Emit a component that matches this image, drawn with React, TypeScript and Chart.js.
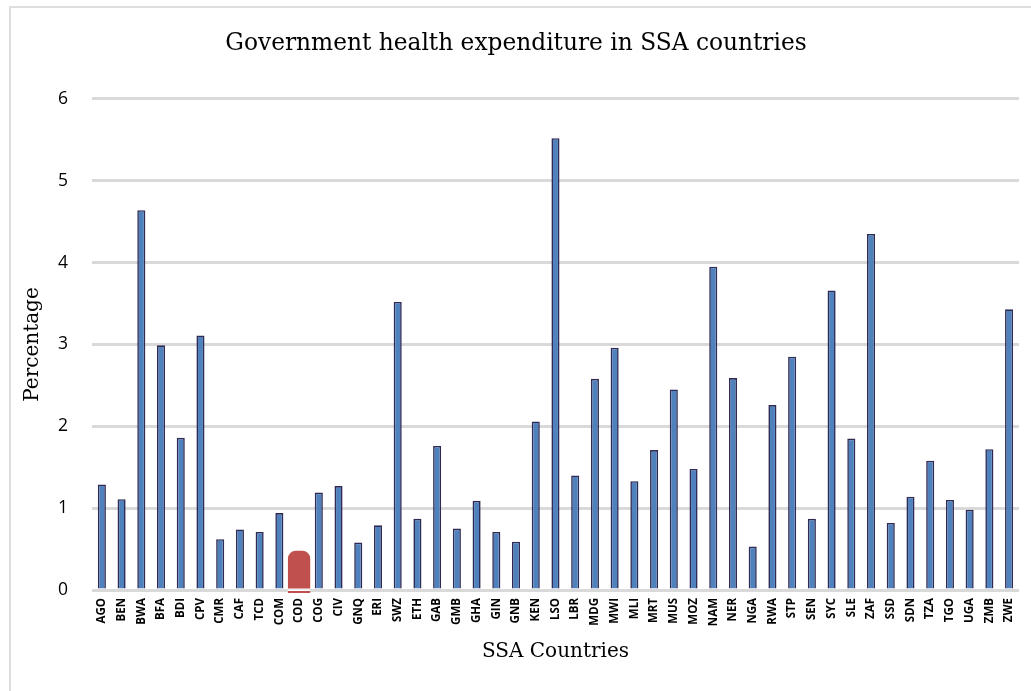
import { useEffect, useRef } from "react";
import { Chart, registerables } from "chart.js";

Chart.register(...registerables);

const chartTitle = "Government health expenditure in SSA countries";
const xAxisTitle = "SSA Countries";
const yAxisTitle = "Percentage";

const categories = [
  "AGO", "BEN", "BWA", "BFA", "BDI", "CPV", "CMR", "CAF", "TCD", "COM",
  "COD", "COG", "CIV", "GNQ", "ERI", "SWZ", "ETH", "GAB", "GMB", "GHA",
  "GIN", "GNB", "KEN", "LSO", "LBR", "MDG", "MWI", "MLI", "MRT", "MUS",
  "MOZ", "NAM", "NER", "NGA", "RWA", "STP", "SEN", "SYC", "SLE", "ZAF",
  "SSD", "SDN", "TZA", "TGO", "UGA", "ZMB", "ZWE",
];

const values = [
  1.29, 1.11, 4.64, 2.99, 1.86, 3.11, 0.62, 0.74, 0.71, 0.94,
  0.48, 1.19, 1.27, 0.58, 0.79, 3.52, 0.87, 1.76, 0.75, 1.09,
  0.71, 0.59, 2.06, 5.52, 1.40, 2.58, 2.96, 1.33, 1.71, 2.45,
  1.48, 3.95, 2.59, 0.53, 2.26, 2.85, 0.87, 3.66, 1.85, 4.35,
  0.82, 1.14, 1.58, 1.10, 0.98, 1.72, 3.43,
];

const highlightCategory = "COD";

const yTicks = [0, 1, 2, 3, 4, 5, 6];

export default function App() {
  const canvasRef = useRef<HTMLCanvasElement | null>(null);

  useEffect(() => {
    if (!canvasRef.current) return;

    const mainData = categories.map((c, i) => (c === highlightCategory ? null : values[i]));
    const highlightData = categories.map((c, i) => (c === highlightCategory ? values[i] : null));

    const underlinePlugin = {
      id: "highlightUnderline",
      afterDatasetsDraw(chart: any) {
        const meta = chart.getDatasetMeta(1);
        const yScale = chart.scales.y;
        const ctx = chart.ctx;
        const y0 = yScale.getPixelForValue(0);
        meta.data.forEach((el: any, i: number) => {
          if (highlightData[i] == null) return;
          const w = el.width;
          ctx.save();
          ctx.fillStyle = "#ffffff";
          ctx.fillRect(el.x - w / 2, y0 - 0.5, w, 1.5);
          ctx.fillStyle = "#c0504d";
          ctx.fillRect(el.x - w / 2, y0 + 1, w, 2);
          ctx.restore();
        });
      },
    };

    const chart = new Chart(canvasRef.current, {
      type: "bar",
      data: {
        labels: categories,
        datasets: [
          {
            data: mainData,
            backgroundColor: "#4f81bd",
            borderColor: "#2f2b55",
            borderWidth: 1.6,
            barPercentage: 0.41,
            categoryPercentage: 1,
            grouped: false,
          },
          {
            data: highlightData,
            backgroundColor: "#c0504d",
            borderWidth: 0,
            borderRadius: { topLeft: 8, topRight: 8, bottomLeft: 0, bottomRight: 0 },
            borderSkipped: false,
            barPercentage: 1.13,
            categoryPercentage: 1,
            grouped: false,
          },
        ],
      },
      options: {
        animation: false,
        responsive: false,
        devicePixelRatio: 1,
        layout: { padding: { left: 11, right: 10, top: 0, bottom: 0 } },
        plugins: {
          legend: { display: false },
          tooltip: { enabled: false },
          title: {
            display: true,
            text: chartTitle,
            color: "#000000",
            font: { family: "'DejaVu Serif', serif", size: 23.3, weight: "normal" },
            padding: { top: 30, bottom: 41 },
          },
        },
        scales: {
          x: {
            grid: { display: false, drawTicks: false },
            border: { display: false },
            ticks: {
              autoSkip: false,
              maxRotation: 90,
              minRotation: 90,
              padding: 8,
              color: "#000000",
              font: { family: "'Open Sans', sans-serif", size: 11.5, weight: "bold" },
            },
            title: {
              display: true,
              text: xAxisTitle,
              color: "#000000",
              font: { family: "'DejaVu Serif', serif", size: 20, weight: "normal" },
              padding: { top: 27, bottom: 27 },
            },
            afterFit(scale: any) {
              scale.height = 101;
            },
          },
          y: {
            min: 0,
            max: 6,
            afterBuildTicks(scale: any) {
              scale.ticks = yTicks.map((v) => ({ value: v }));
            },
            grid: { color: "#d9d9d9", lineWidth: 3, drawTicks: false },
            border: { display: false },
            ticks: {
              padding: 24,
              color: "#000000",
              font: { family: "'Open Sans', sans-serif", size: 17.5 },
            },
            title: {
              display: true,
              text: yAxisTitle,
              color: "#000000",
              font: { family: "'DejaVu Serif', serif", size: 20, weight: "normal" },
              padding: { top: 10, bottom: 10 },
            },
            afterFit(scale: any) {
              scale.width = 81;
            },
          },
        },
      },
      plugins: [underlinePlugin],
    } as any);

    return () => {
      chart.destroy();
    };
  }, []);

  return (
    <div
      style={{
        position: "fixed",
        left: 0,
        top: 0,
        width: 1031,
        height: 691,
        overflow: "hidden",
        background: "#ffffff",
      }}
    >
      <div
        style={{
          position: "absolute",
          left: 9,
          top: 6,
          width: 1040,
          height: 720,
          border: "2px solid #dedede",
          pointerEvents: "none",
        }}
      />
      <canvas
        ref={canvasRef}
        width={1031}
        height={691}
        style={{ position: "absolute", left: 0, top: 0, width: 1031, height: 691, display: "block" }}
      />
    </div>
  );
}
